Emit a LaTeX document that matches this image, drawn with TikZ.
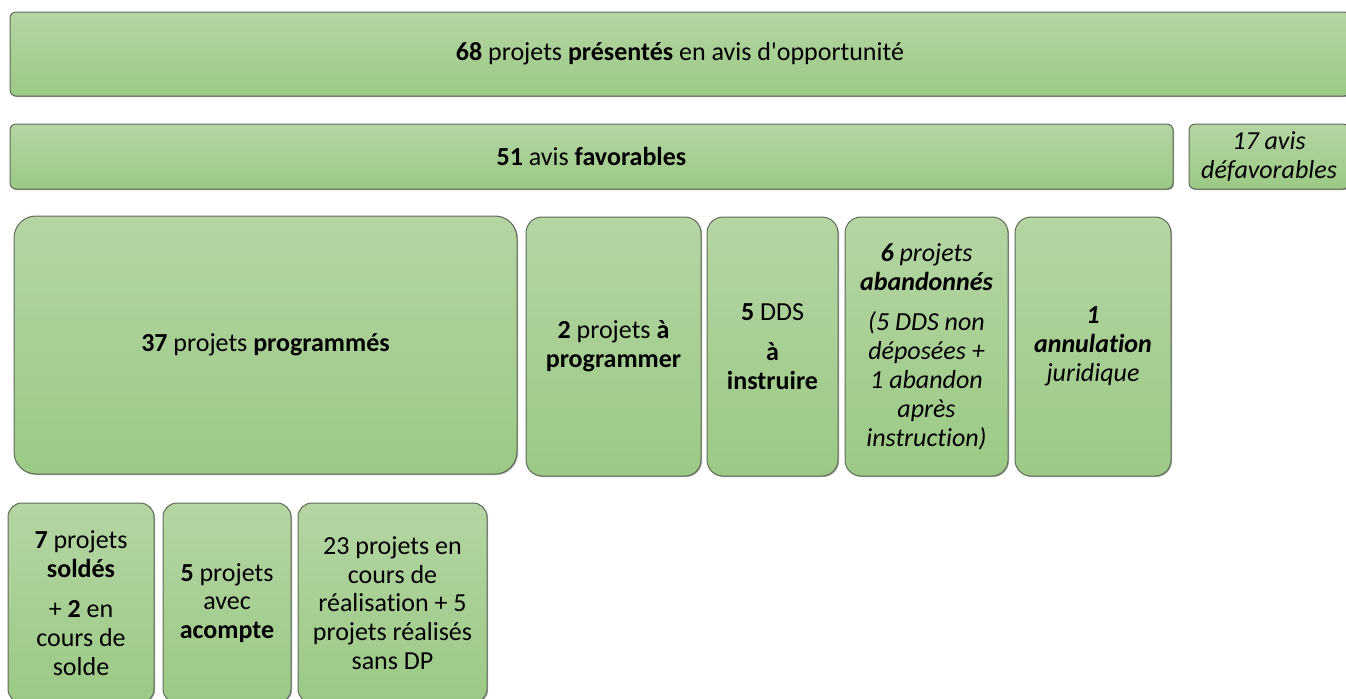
\documentclass[tikz,border=0pt]{standalone}
\usepackage{fontspec}
\setmainfont{Carlito}[Ligatures={NoCommon}]
\usetikzlibrary{shadows}
\definecolor{vertHaut}{HTML}{B5D5A3}
\definecolor{vertBas}{HTML}{9CC985}
\definecolor{bord}{HTML}{5E6B58}
\tikzset{
  bloc/.style={draw=bord, line width=.5pt, top color=vertHaut, bottom color=vertBas,
    anchor=north west, outer sep=0pt, inner sep=1pt, align=center,
    font=\fontsize{13}{14.4}\selectfont,
    drop shadow={shadow xshift=.5pt, shadow yshift=-.5pt, fill=black, opacity=.35}},
  barre/.style={bloc, rounded corners=3pt, minimum height=32.5pt},
  haut/.style={bloc, rounded corners=8pt, minimum height=129.5pt},
  bas/.style={bloc, rounded corners=7pt, minimum height=100pt}
}
\begin{document}
\begin{tikzpicture}[x=.5pt, y=-.5pt]
\useasboundingbox (0,0) rectangle (1346,698);
\clip (0,0) rectangle (1346,698);

\node[barre, minimum width=670pt, minimum height=42pt] (presentes) at (10,12)
  {\textbf{68} projets \textbf{présentés} en avis d\textquotesingle opportunité};
\node[barre, minimum width=581.5pt] (favorables) at (10,124)
  {\textbf{51} avis \textbf{favorables}};
\node[barre, minimum width=80pt] (defavorables) at (1189,124)
  {\itshape 17 avis\\ \itshape défavorables};

\node[haut, rounded corners=11pt, minimum width=251.5pt, minimum height=129pt] (programmes) at (14,216)
  {\textbf{37} projets \textbf{programmés}};
\node[haut, minimum width=87.5pt] (aprogrammer) at (526,217)
  {\textbf{2} projets \textbf{à}\\ \textbf{programmer}};
\node[haut, minimum width=65.5pt] (ainstruire) at (707,217)
  {\textbf{5} DDS\\[6pt] \textbf{à}\\ \textbf{instruire}};
\node[haut, minimum width=81.5pt] (abandonnes) at (845,217)
  {\itshape\textbf{6} projets\\ \itshape\textbf{abandonnés}\\[6pt]
   \itshape(5 DDS non\\ \itshape déposées +\\ \itshape 1 abandon\\ \itshape après\\ \itshape instruction)};
\node[haut, minimum width=78pt] (annulation) at (1015,217)
  {\itshape\textbf{1}\\ \itshape\textbf{annulation}\\ \itshape juridique};

\node[bas, minimum width=73pt] (soldes) at (8,503)
  {\textbf{7} projets\\ \textbf{soldés}\\[6pt] + \textbf{2} en\\ cours de\\ solde};
\node[bas, minimum width=64pt] (acompte) at (163,503)
  {\textbf{5} projets\\ avec\\ \textbf{acompte}};
\node[bas, minimum width=94.5pt] (realisation) at (298,503)
  {23 projets en\\ cours de\\ réalisation + 5\\ projets réalisés\\ sans DP};
\end{tikzpicture}
\end{document}
